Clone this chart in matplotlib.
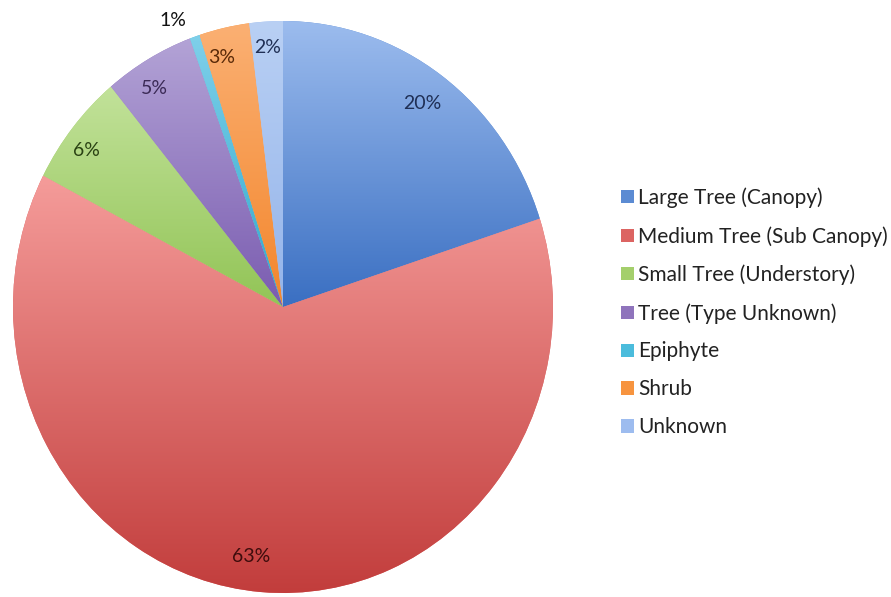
import numpy as np
import matplotlib
matplotlib.use("Agg")
import matplotlib.pyplot as plt
from matplotlib.colors import to_rgb

plt.rcParams['font.family'] = ['Lato', 'DejaVu Sans']

# Data
categories = ["Large Tree (Canopy)", "Medium Tree (Sub Canopy)", "Small Tree (Understory)",
              "Tree (Type Unknown)", "Epiphyte", "Shrub", "Unknown"]
shares = [20.0, 62.6, 6.4, 5.4, 0.6, 3.0, 2.0]

# Style: gradient top/bottom per wedge (Excel-like fill)
colors = ["#5b8bd3", "#dc6462", "#a4cf6c", "#8f74bc", "#4bbcdc", "#f7943f", "#9dbcef"]
tops = ["#9cbcee", "#f59c9a", "#c2e29a", "#b3a3d6", "#7fd0ea", "#fbb073", "#b9d0f4"]
bottoms = ["#3a6fc2", "#c23d3c", "#92c456", "#7a5cb0", "#31a8cc", "#f3862c", "#94b4ea"]
label_colors = ["#1f2f55", "#3d0c0c", "#2a4213", "#3b2a56", "#111111", "#5a2a08", "#1f2f55"]
label_r = [0.88, 0.88, 0.91, 0.90, 1.08, 0.90, 0.91]
label_shift = [0, 3, -2, -2, -3, -2, 0]   # degrees, clockwise


def gradient(top, bot):
    top = np.array(to_rgb(top))
    bot = np.array(to_rgb(bot))
    t = np.linspace(0, 1, 256)[:, None]
    g = top * (1 - t) + bot * t
    return g[:, None, :]


fig = plt.figure(figsize=(8.91, 5.97), dpi=100)
ax = fig.add_axes([13 / 891, 4 / 597, 540 / 891, 572 / 597])

wedges, _ = ax.pie(shares, colors=colors, startangle=90, counterclock=False,
                   radius=1.0, wedgeprops=dict(edgecolor='none'))

for w, tc, bc in zip(wedges, tops, bottoms):
    th = np.deg2rad(np.linspace(w.theta1, w.theta2, 200))
    ys = np.concatenate([w.r * np.sin(th), [0.0]])
    xs = np.concatenate([w.r * np.cos(th), [0.0]])
    im = ax.imshow(gradient(tc, bc), extent=(xs.min(), xs.max(), ys.min(), ys.max()),
                   aspect='auto', zorder=w.get_zorder() + 0.1)
    im.set_clip_path(w)

# percentage labels
total = sum(shares)
cum = 0.0
for i, s in enumerate(shares):
    mid = (cum + s / 2) / total * 360 + label_shift[i]
    cum += s
    a = np.deg2rad(mid)
    x = label_r[i] * np.sin(a)
    y = label_r[i] * np.cos(a)
    ax.text(x, y, f"{s / total * 100:.0f}%", ha='center', va='center',
            fontsize=14, color=label_colors[i], zorder=10, clip_on=False)

ax.set_xlim(-1, 1)
ax.set_ylim(-1, 1)
ax.set_aspect('auto')
ax.axis('off')

fig.legend(wedges, categories, loc='upper left', bbox_to_anchor=(611 / 891, 1 - 177 / 597),
           frameon=False, fontsize=15, handlelength=0.6, handleheight=0.6,
           handletextpad=0.22, labelspacing=0.86, borderpad=0, labelcolor='#222222')

fig.savefig("out.png", dpi=100)
